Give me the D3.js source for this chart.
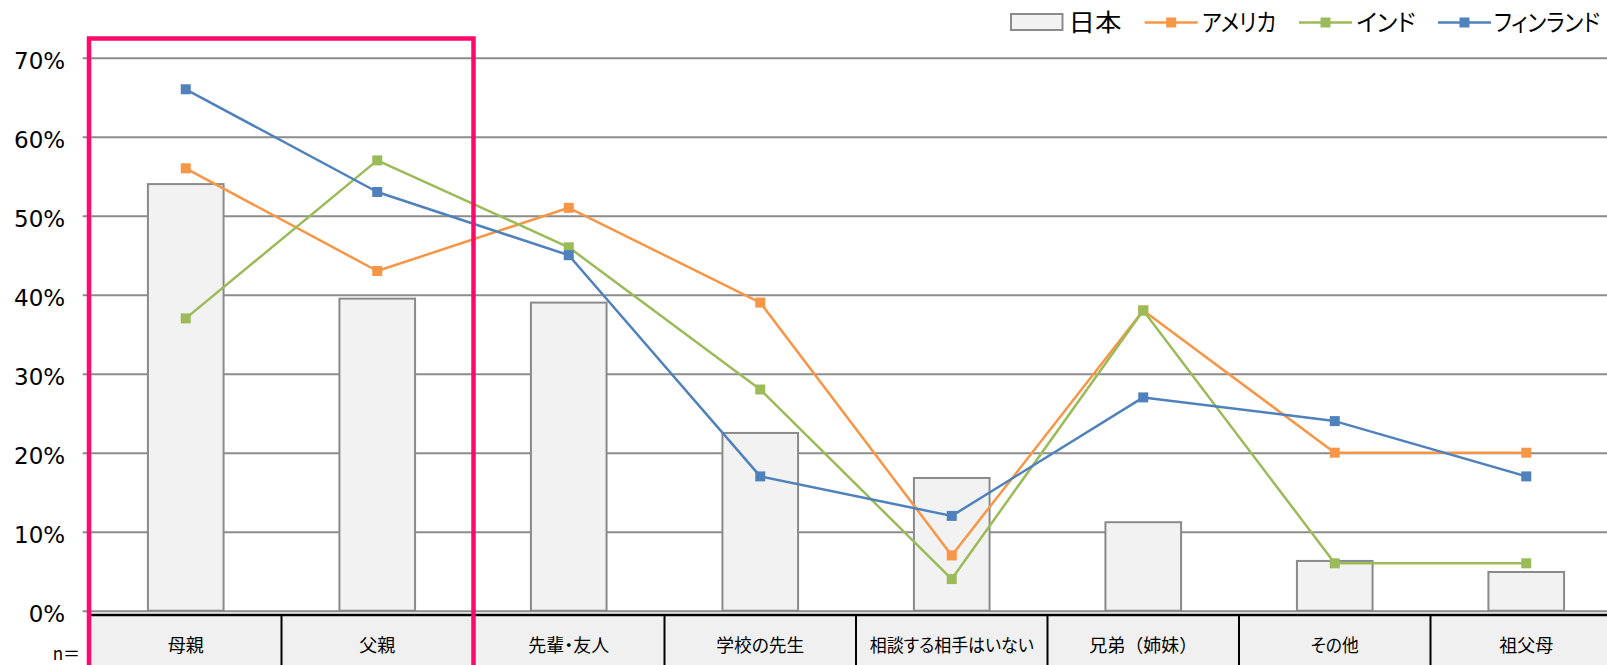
<!DOCTYPE html>
<html><head><meta charset="utf-8">
<script src="https://cdn.jsdelivr.net/npm/d3@7"></script>
<style>
body{margin:0;background:#fff;overflow:hidden}
svg{display:block}
.jp{font-family:"Noto Sans CJK JP","Noto Sans",sans-serif;font-feature-settings:"palt" 1;}
.jpn{font-feature-settings:normal;}
</style></head>
<body><svg id="c" width="1607" height="665"></svg>
<script>
// ---- data ----
const categories = ["母親","父親","先輩・友人","学校の先生","相談する相手はいない","兄弟（姉妹）","その他","祖父母"];
const japan   = [54.0, 39.5, 39.0, 22.5, 16.8, 11.2, 6.3, 4.9];
const usa     = [56, 43, 51, 39, 7, 38, 20, 20];
const india   = [37, 57, 46, 28, 4, 38, 6, 6];
const finland = [66, 53, 45, 17, 12, 27, 24, 17];
const yTicks  = [0, 10, 20, 30, 40, 50, 60, 70];
const seriesNames = ["日本", "アメリカ", "インド", "フィンランド"];

// ---- layout / style ----
const W = 1607, H = 665;
const colors = {usa:"#f79646", india:"#9bbb59", finland:"#4f81bd"};
const labelLen = {"先輩・友人":81, "学校の先生":88, "相談する相手はいない":164, "その他":48};
const noPalt = {"兄弟（姉妹）": true};
const svg = d3.select("#c");

const x = d3.scaleBand().domain(categories).range([90, 1622]).padding(0);
const y = d3.scaleLinear().domain([0, 70]).range([610.7, 57.7]);
const bw = x.bandwidth() * 0.395;
const cx = c => x(c) + x.bandwidth() / 2;

// gridlines + y labels via axis
const axisX = 82.7;
const ax = svg.append("g").attr("transform", `translate(${axisX},0)`)
  .call(d3.axisLeft(y).tickValues(yTicks).tickFormat(d => d + "%")
    .tickSize(-(W - axisX + 20)).tickPadding(17.5));
ax.select(".domain").remove();
ax.selectAll(".tick line").attr("stroke", "#8c8c8c").attr("stroke-width", 2);
ax.selectAll(".tick text").attr("font-family", "DejaVu Sans, sans-serif")
  .attr("font-size", 23).attr("fill", "#000").attr("dy", "0.45em");

// bars (Japan)
svg.append("g").selectAll("rect").data(categories).join("rect")
  .attr("x", c => cx(c) - bw / 2)
  .attr("y", (c, i) => y(japan[i]))
  .attr("width", bw)
  .attr("height", (c, i) => y(0) - y(japan[i]))
  .attr("fill", "#f2f2f2").attr("stroke", "#8a8a8a").attr("stroke-width", 2);

// lines
const line = d3.line().x(d => cx(d.c)).y(d => y(d.v));
const series = [
  {vals: usa, color: colors.usa},
  {vals: india, color: colors.india},
  {vals: finland, color: colors.finland}
];
series.forEach(s => {
  const pts = categories.map((c, i) => ({c, v: s.vals[i]}));
  svg.append("path").datum(pts).attr("d", line).attr("fill", "none")
    .attr("stroke", s.color).attr("stroke-width", 2.5).attr("stroke-linejoin", "round");
  svg.append("g").selectAll("rect").data(pts).join("rect")
    .attr("x", d => cx(d.c) - 5).attr("y", d => y(d.v) - 5)
    .attr("width", 10).attr("height", 10).attr("fill", s.color);
});

// table row
const tTop = 615, tBot = 720;
svg.append("rect").attr("x", x.range()[0]).attr("y", tTop)
  .attr("width", x.range()[1] - x.range()[0]).attr("height", tBot - tTop)
  .attr("fill", "#f0f0f0");
svg.append("line").attr("x1", x.range()[0]).attr("x2", W + 10)
  .attr("y1", tTop).attr("y2", tTop).attr("stroke", "#000").attr("stroke-width", 2.6);
svg.append("g").selectAll("line").data(categories.concat(["__end"])).join("line")
  .attr("x1", (c, i) => x.range()[0] + i * x.step())
  .attr("x2", (c, i) => x.range()[0] + i * x.step())
  .attr("y1", tTop).attr("y2", tBot).attr("stroke", "#000").attr("stroke-width", 2);
const lbl = svg.append("g").selectAll("text").data(categories).join("text")
  .attr("class", c => noPalt[c] ? "jp jpn" : "jp")
  .attr("x", c => cx(c)).attr("y", 644)
  .attr("text-anchor", "middle").attr("dominant-baseline", "central")
  .attr("font-size", 18).attr("fill", "#000")
  .text(c => c);
lbl.filter(c => labelLen[c]).attr("textLength", c => labelLen[c])
  .attr("lengthAdjust", "spacingAndGlyphs");

svg.append("text").attr("class", "jp").attr("x", 80).attr("y", 660)
  .attr("text-anchor", "end").attr("font-size", 17).attr("fill", "#000").text("n＝");

// legend
const lg = svg.append("g");
lg.append("rect").attr("x", 1011).attr("y", 14).attr("width", 51.5).attr("height", 16)
  .attr("fill", "#f2f2f2").attr("stroke", "#8c8c8c").attr("stroke-width", 2);
const legItems = [
  {name: seriesNames[1], color: colors.usa, x0: 1144.7, tx: 1202, tl: 74},
  {name: seriesNames[2], color: colors.india, x0: 1299, tx: 1356.5, tl: 59},
  {name: seriesNames[3], color: colors.finland, x0: 1438, tx: 1494, tl: 106}
];
const legText = (t, xx, len) => {
  const g = lg.append("g");
  const tx = g.append("text").attr("class", "jp")
    .attr("x", 0).attr("y", 0).attr("dominant-baseline", "central")
    .attr("font-size", 24).attr("fill", "#000").text(t);
  const nat = tx.node().getComputedTextLength() || len;
  g.attr("transform", `translate(${xx},21) scale(${len / nat},1)`);
};
legText(seriesNames[0], 1068.5, 53);
legItems.forEach(it => {
  lg.append("line").attr("x1", it.x0).attr("x2", it.x0 + 53).attr("y1", 22.5).attr("y2", 22.5)
    .attr("stroke", it.color).attr("stroke-width", 2.5);
  lg.append("rect").attr("x", it.x0 + 26.5 - 5).attr("y", 17.5).attr("width", 10).attr("height", 10)
    .attr("fill", it.color);
  legText(it.name, it.tx, it.tl);
});

// highlight frame
svg.append("rect").attr("x", 89).attr("y", 38.5).attr("width", 384.5).attr("height", 700)
  .attr("fill", "none").attr("stroke", "#ff0a6c").attr("stroke-width", 4.5);
</script></body></html>
